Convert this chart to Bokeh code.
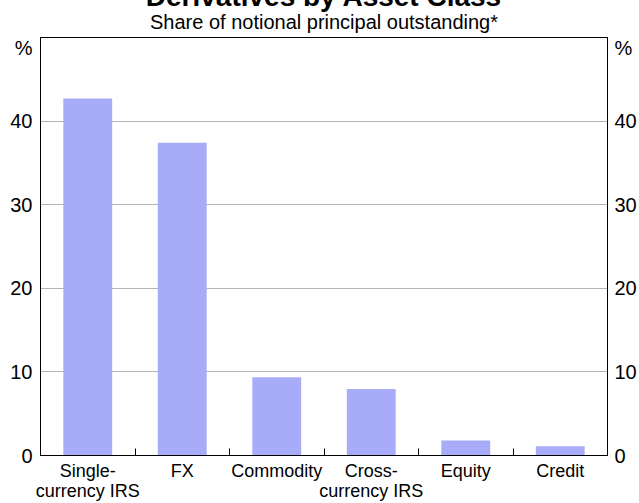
from bokeh.plotting import figure
from bokeh.models import Range1d, FixedTicker, LinearAxis, Grid
from bokeh.embed import file_html
from bokeh.resources import INLINE

categories = ["Single-\ncurrency IRS", "FX", "Commodity", "Cross-\ncurrency IRS", "Equity", "Credit"]
shares = [42.7, 37.4, 9.35, 7.95, 1.8, 1.1]
y_ticks = [0, 10, 20, 30, 40]
title_text = "Derivatives by Asset Class"
subtitle_text = "Share of notional principal outstanding*"
unit_label = "%"

FONT = "Liberation Sans"
Y_MAX = 50
W, H = 639, 503
TOP_HIDDEN = 23          # part of the canvas pushed above the window (title is cut off there)
FRAME_TOP = 37
n = len(categories)
x_centers = [i + 0.5 for i in range(n)]
boundaries = [i for i in range(1, n)]

p = figure(width=W, height=H + TOP_HIDDEN, output_backend="svg", toolbar_location=None,
           x_range=Range1d(0, n), y_range=Range1d(0, Y_MAX),
           x_axis_location=None, y_axis_location=None,
           min_border_left=40, min_border_right=30,
           min_border_top=FRAME_TOP + TOP_HIDDEN, min_border_bottom=48,
           margin=(-TOP_HIDDEN, 0, 0, 0))
p.background_fill_color = "white"
p.border_fill_color = "white"
p.outline_line_color = "black"
p.outline_line_width = 1
p.xgrid.grid_line_color = None
p.ygrid.grid_line_color = None

p.vbar(x=x_centers, top=shares, width=0.517, fill_color="#a8acf8", line_color=None)

grid = Grid(dimension=1, ticker=FixedTicker(ticks=[t for t in y_ticks if t > 0]),
            grid_line_color="#b4b4b4", grid_line_width=1)
p.add_layout(grid)

# title + subtitle carried by an axis above the frame
head = LinearAxis(ticker=FixedTicker(ticks=[n / 2], minor_ticks=[]),
                  major_label_overrides={n / 2: subtitle_text},
                  major_tick_in=0, major_tick_out=0, minor_tick_in=0, minor_tick_out=0,
                  axis_line_color=None, major_label_standoff=5,
                  major_label_text_font=FONT, major_label_text_font_size="20px",
                  major_label_text_color="black",
                  axis_label=title_text, axis_label_standoff=-4,
                  axis_label_text_font=FONT, axis_label_text_font_size="28px",
                  axis_label_text_font_style="bold", axis_label_text_color="black")
p.add_layout(head, "above")

unit_pos = 48.8
yt = y_ticks + [unit_pos]
for side, standoff in (("left", 8), ("right", 7)):
    ax = LinearAxis(ticker=FixedTicker(ticks=yt, minor_ticks=[]),
                    major_label_overrides={unit_pos: unit_label},
                    major_tick_in=0, major_tick_out=0, minor_tick_in=0, minor_tick_out=0,
                    axis_line_color="black", major_label_standoff=standoff,
                    major_label_text_font=FONT, major_label_text_font_size="20px",
                    major_label_text_color="black")
    p.add_layout(ax, side)

xax = LinearAxis(ticker=FixedTicker(ticks=x_centers, minor_ticks=boundaries),
                 major_label_overrides={xc: c for xc, c in zip(x_centers, categories)},
                 major_tick_in=0, major_tick_out=0, minor_tick_in=7, minor_tick_out=0,
                 minor_tick_line_color="black",
                 axis_line_color="black", major_label_standoff=5,
                 major_label_text_font=FONT, major_label_text_font_size="18px",
                 major_label_text_color="black", major_label_text_line_height=1.0)
p.add_layout(xax, "below")

open("out.html", "w").write(file_html(p, INLINE))
